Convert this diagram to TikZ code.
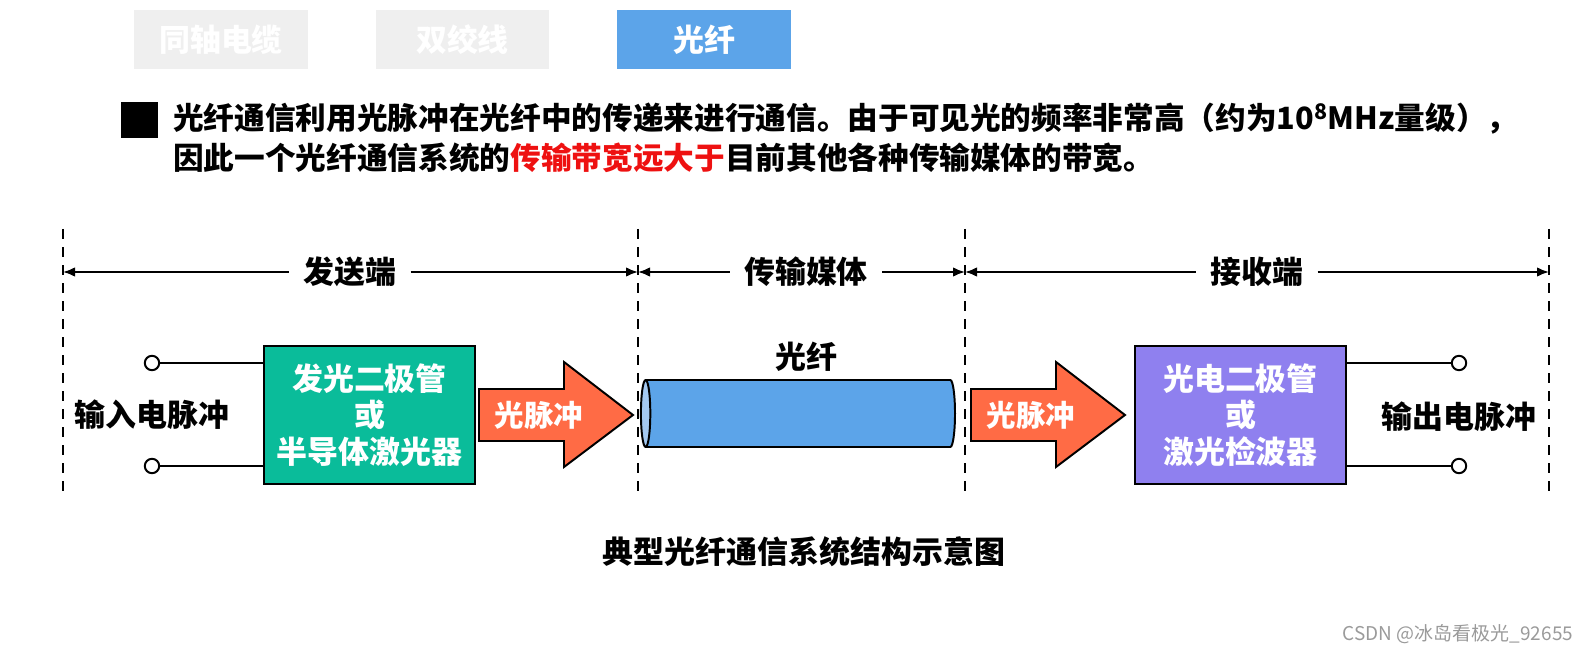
\documentclass[tikz,border=0pt]{standalone}
\usepackage{fontspec}
\usepackage{xcolor}
\setmainfont{Noto Sans CJK SC}
\usetikzlibrary{positioning,shapes.geometric,arrows.meta}

\definecolor{tabgray}{HTML}{EFEFEF}
\definecolor{tabblue}{HTML}{5CA4E9}
\definecolor{ledgreen}{HTML}{0ABC9A}
\definecolor{pdviolet}{HTML}{8F80EF}
\definecolor{pulseorange}{HTML}{FF6B45}
\definecolor{fiberend}{HTML}{A4C9F1}
\definecolor{hired}{HTML}{EE1111}
\definecolor{markgray}{HTML}{9A9A9A}

\begin{document}
\begin{tikzpicture}[x=0.025cm, y=-0.025cm, >={Latex[length=3mm,width=2.4mm]},
        every node/.style={font=\fontsize{22}{26}\selectfont\bfseries},
        tab/.style={minimum width=4.325cm, minimum height=1.475cm, inner sep=0, text=white},
        block/.style={draw, line width=2pt, minimum width=5.275cm, minimum height=3.45cm, align=center, text=white},
        term/.style={circle, draw, line width=1.4pt, fill=white, minimum size=0.36cm, inner sep=0},
        wire/.style={line width=2.1pt},
        cutline/.style={line width=1.4pt, dash pattern=on 0.25cm off 0.2cm},
        spanline/.style={line width=1.4pt},
        sidelbl/.style={inner xsep=0.35cm},
        pulse/.style={fill=pulseorange, draw, line width=1.4pt}]
        \useasboundingbox (0,0) rectangle (1594,656);
        % tabs
        \node[tab, fill=tabgray] (coax) at (221,39.5) {同轴电缆};
        \node[tab, fill=tabgray] (twisted) at (462.5,39.5) {双绞线};
        \node[tab, fill=tabblue] (optic) at (704,39.5) {光纤};
        % intro
        \node[fill=black, minimum width=0.925cm, minimum height=0.9cm, inner sep=0] (bullet) at (139.5,120) {};
        \node[anchor=north west, align=left, inner sep=0, font=\fontsize{21.8}{27.9}\selectfont\bfseries] (intro) at (173,103)
            {光纤通信利用光脉冲在光纤中的传递来进行通信。由于可见光的频率非常高（约为10\textsuperscript{8}MHz量级），\\
             因此一个光纤通信系统的\textcolor{hired}{传输带宽远大于}目前其他各种传输媒体的带宽。};
        % section borders
        \foreach \i/\x in {1/63,2/638,3/965,4/1549} {
            \coordinate (top\i) at (\x,229);
            \coordinate (bot\i) at (\x,497);
            \coordinate (mid\i) at (\x,272);
            \draw[cutline] (top\i) -- (bot\i);
        }
        \node[sidelbl] (send) at (350,272) {发送端};
        \node[sidelbl] (media) at (806,272) {传输媒体};
        \node[sidelbl] (recv) at (1257,272) {接收端};
        \draw[spanline, <-] (mid1) -- (send);
        \draw[spanline, ->] (send) -- (mid2);
        \draw[spanline, <-] (mid2) -- (media);
        \draw[spanline, ->] (media) -- (mid3);
        \draw[spanline, <-] (mid3) -- (recv);
        \draw[spanline, ->] (recv) -- (mid4);
        % transmitter and receiver
        \node[block, fill=ledgreen] (led) at (369.5,415) {发光二极管\\或\\半导体激光器};
        \node[block, fill=pdviolet] (pd) at (1240.5,415) {光电二极管\\或\\激光检波器};
        \node[term] (in1) at (152,363) {};
        \node[term] (in2) at (152,466) {};
        \node[term] (out1) at (1459,363) {};
        \node[term] (out2) at (1459,466) {};
        \draw[wire] (in1) -- (in1 -| led.west);
        \draw[wire] (in2) -- (in2 -| led.west);
        \draw[wire] (out1 -| pd.east) -- (out1);
        \draw[wire] (out2 -| pd.east) -- (out2);
        \node (inlbl) at (152,415) {输入电脉冲};
        \node (outlbl) at (1459,417) {输出电脉冲};
        % light pulses
        \foreach \t/\n in {479/p1,971/p2} {
            \filldraw[pulse] (\t,389) -- ++(85,0) -- ++(0,-27) -- ++(69,53) -- ++(-69,52) -- ++(0,-26) -- ++(-85,0) -- cycle;
            \node[text=white, font=\fontsize{21}{25}\selectfont\bfseries] (\n) at (\t+60,415) {光脉冲};
        }
        % fiber
        \node[cylinder, shape border rotate=180, aspect=1, draw, line width=1.4pt,
              cylinder uses custom fill, cylinder body fill=tabblue, cylinder end fill=fiberend,
              minimum height=7.85cm, minimum width=1.675cm] (fiber) at (802,413.5) {};
        \node (fiberlbl) at (806,357) {光纤};
        % caption
        \node (caption) at (804,552) {典型光纤通信系统结构示意图};
        \node[font=\fontsize{13.5}{16}\selectfont, text=markgray] (mark) at (1458,634) {CSDN @冰岛看极光\_92655};
\end{tikzpicture}
\end{document}
